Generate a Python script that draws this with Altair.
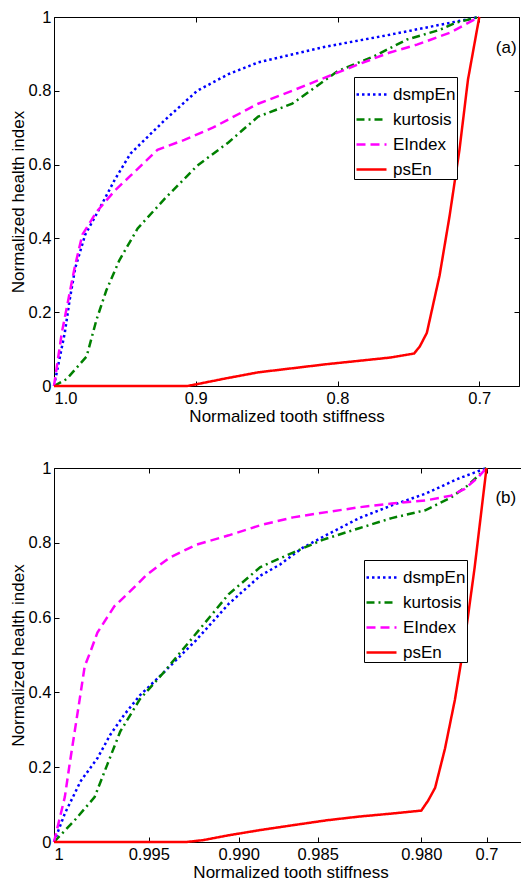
import altair as alt
import pandas as pd

FONT = "Liberation Sans"

series = ["dsmpEn", "kurtosis", "EIndex", "psEn"]
colors = ["#0000ff", "#008000", "#ff00ff", "#ff0000"]
dashes = [[2.5, 3], [8, 4, 2, 4], [9, 5], [1, 0]]

# ---------------- panel (a) ----------------
a_dsmpEn_x = [1.0, 0.9924, 0.989, 0.985, 0.978, 0.968, 0.957, 0.946, 0.922, 0.899, 0.877, 0.856, 0.808, 0.763, 0.717, 0.70]
a_dsmpEn_y = [0.0, 0.144, 0.232, 0.32, 0.41, 0.48, 0.56, 0.63, 0.72, 0.80, 0.845, 0.877, 0.92, 0.952, 0.987, 1.0]

a_kurt_x = [1.0, 0.991, 0.977, 0.970, 0.963, 0.954, 0.941, 0.922, 0.899, 0.877, 0.856, 0.832, 0.80, 0.774, 0.751, 0.728, 0.717, 0.70]
a_kurt_y = [0.0, 0.019, 0.08, 0.18, 0.26, 0.34, 0.427, 0.507, 0.597, 0.66, 0.73, 0.765, 0.853, 0.894, 0.939, 0.965, 0.984, 1.0]

a_eidx_x = [1.0, 0.9945, 0.990, 0.9855, 0.980, 0.970, 0.957, 0.946, 0.927, 0.908, 0.888, 0.856, 0.832, 0.808, 0.785, 0.763, 0.744, 0.721, 0.70]
a_eidx_y = [0.0, 0.144, 0.232, 0.32, 0.41, 0.472, 0.53, 0.57, 0.64, 0.667, 0.70, 0.765, 0.80, 0.837, 0.872, 0.904, 0.925, 0.957, 1.0]

a_psen_x = [1.0, 0.906, 0.899, 0.881, 0.856, 0.808, 0.763, 0.746, 0.742, 0.737, 0.728, 0.721, 0.714, 0.708, 0.70]
a_psen_y = [0.0, 0.0, 0.005, 0.019, 0.037, 0.059, 0.077, 0.088, 0.107, 0.144, 0.30, 0.46, 0.64, 0.83, 1.0]

# ---------------- panel (b) ----------------
b_dsmpEn_x = [1.0, 0.99943, 0.99859, 0.99771, 0.99703, 0.99630, 0.99547, 0.99418, 0.99236, 0.99055, 0.98863, 0.98738, 0.98594, 0.98457, 0.98300, 0.98143, 0.9630, 0.8230, 0.70]
b_dsmpEn_y = [0.0, 0.076, 0.163, 0.224, 0.287, 0.34, 0.392, 0.453, 0.54, 0.637, 0.712, 0.742, 0.787, 0.821, 0.866, 0.90, 0.931, 0.971, 1.0]

b_kurt_x = [1.0, 0.99891, 0.99786, 0.99719, 0.99651, 0.99547, 0.99418, 0.99236, 0.99055, 0.98863, 0.98656, 0.98476, 0.98300, 0.98143, 0.9630, 0.8527, 0.7806, 0.70]
b_kurt_y = [0.0, 0.058, 0.12, 0.207, 0.295, 0.382, 0.453, 0.558, 0.663, 0.735, 0.774, 0.808, 0.839, 0.866, 0.887, 0.921, 0.953, 1.0]

b_eidx_x = [1.0, 0.99943, 0.99917, 0.99891, 0.99865, 0.99838, 0.99807, 0.99771, 0.99682, 0.99599, 0.99510, 0.99385, 0.99236, 0.99055, 0.98863, 0.98656, 0.98457, 0.98300, 0.98143, 0.9630, 0.8527, 0.7934, 0.7382, 0.70]
b_eidx_y = [0.0, 0.12, 0.21, 0.295, 0.38, 0.47, 0.51, 0.56, 0.63, 0.67, 0.715, 0.76, 0.795, 0.82, 0.847, 0.868, 0.882, 0.895, 0.905, 0.913, 0.926, 0.944, 0.974, 1.0]

b_psen_x = [1.0, 0.99291, 0.99198, 0.99055, 0.98863, 0.98656, 0.98457, 0.98300, 0.98143, 0.980, 0.9503, 0.9206, 0.8782, 0.8358, 0.7934, 0.7509, 0.70]
b_psen_y = [0.0, 0.0, 0.005, 0.018, 0.032, 0.045, 0.058, 0.068, 0.076, 0.084, 0.111, 0.145, 0.25, 0.38, 0.54, 0.734, 1.0]

# axes
y_ticks = [0, 0.2, 0.4, 0.6, 0.8, 1]
a_x_ticks = [1.0, 0.9, 0.8, 0.7]
a_x_domain = [1.0, 0.672]
b_x_ticks = [1.0, 0.995, 0.990, 0.985, 0.980, 0.7]
b_x_domain = [1.0, 0.995, 0.990, 0.985, 0.980, 0.7, 0.526]
b_x_range = [0, 94.8, 184.7, 263.7, 367.3, 432.5, 473]

# panel labels
panel_labels = ["(a)", "(b)"]
panel_label_x = [0.681, 0.617]
panel_label_y = [0.917, 0.92]


def make_df(xs, ys):
    rows = []
    for name, x, y in zip(series, xs, ys):
        for i, (xv, yv) in enumerate(zip(x, y)):
            rows.append({"series": name, "s": xv, "h": yv, "i": i})
    return pd.DataFrame(rows)


df_a = make_df([a_dsmpEn_x, a_kurt_x, a_eidx_x, a_psen_x], [a_dsmpEn_y, a_kurt_y, a_eidx_y, a_psen_y])
df_b = make_df([b_dsmpEn_x, b_kurt_x, b_eidx_x, b_psen_x], [b_dsmpEn_y, b_kurt_y, b_eidx_y, b_psen_y])


def panel(df, xscale, x_ticks, x_label_expr, label_idx, width, height, leg_x, leg_y):
    yscale = alt.Scale(domain=[0, 1], nice=False, zero=False)
    legend = alt.Legend(
        orient="none", legendX=leg_x, legendY=leg_y, title=None,
        strokeColor="black", fillColor="white", padding=1, cornerRadius=0,
        labelFont=FONT, labelFontSize=17, labelColor="black", labelOffset=5,
        symbolType="stroke", symbolSize=900, symbolStrokeWidth=2.5, rowPadding=-13,
    )
    lines = alt.Chart(df).mark_line(strokeWidth=2.5).encode(
        x=alt.X("s:Q", scale=xscale, axis=alt.Axis(
            orient="bottom", values=x_ticks, labelExpr=x_label_expr, offset=-5, tickSize=5,
            domain=False, labelPadding=4, title="Normalized tooth stiffness", titlePadding=2)),
        y=alt.Y("h:Q", scale=yscale, axis=alt.Axis(
            orient="left", values=y_ticks, labelExpr="format(datum.value, '~g')", offset=-5, tickSize=5,
            domain=False, labelPadding=3, title="Normalized health index", titlePadding=1)),
        color=alt.Color("series:N", scale=alt.Scale(domain=series, range=colors), legend=legend),
        strokeDash=alt.StrokeDash("series:N", scale=alt.Scale(domain=series, range=dashes), legend=legend),
        order="i:Q",
    )
    lab_df = pd.DataFrame({"label": [panel_labels[label_idx]], "s": [panel_label_x[label_idx]],
                           "h": [panel_label_y[label_idx]]})
    text = alt.Chart(lab_df).mark_text(font=FONT, fontSize=17, color="black").encode(
        x=alt.X("s:Q", scale=xscale, axis=alt.Axis(
            orient="top", values=x_ticks, labels=False, offset=-5, tickSize=5, domain=False, title=None)),
        y=alt.Y("h:Q", scale=yscale, axis=alt.Axis(
            orient="right", values=y_ticks, labels=False, offset=-5, tickSize=5, domain=False, title=None)),
        text="label:N",
    )
    return alt.layer(lines, text).resolve_scale(x="independent", y="independent").properties(
        width=width, height=height)


top = panel(df_a, alt.Scale(domain=a_x_domain, nice=False, zero=False), a_x_ticks,
            "format(datum.value, '.1f')", 0, 465, 369, 300, 60)
bottom = panel(df_b, alt.Scale(domain=b_x_domain, range=b_x_range, nice=False, zero=False), b_x_ticks,
               "datum.value == 1 ? '1' : (datum.value == 0.7 ? '0.7' : format(datum.value, '.3f'))",
               1, 473, 374, 310, 92)

chart = alt.vconcat(top, bottom, spacing=34).resolve_scale(
    color="independent", strokeDash="independent"
).properties(
    padding={"left": 0, "top": 0, "right": -7, "bottom": 0}, background="white"
).configure_view(
    stroke="black", strokeWidth=1
).configure_axis(
    labelFont=FONT, labelFontSize=16.5, labelColor="black", titleFont=FONT, titleFontSize=17,
    titleFontWeight="normal", titleColor="black", tickColor="black", grid=False,
)

chart.save("out.html", embed_options={"renderer": "svg", "actions": False})
